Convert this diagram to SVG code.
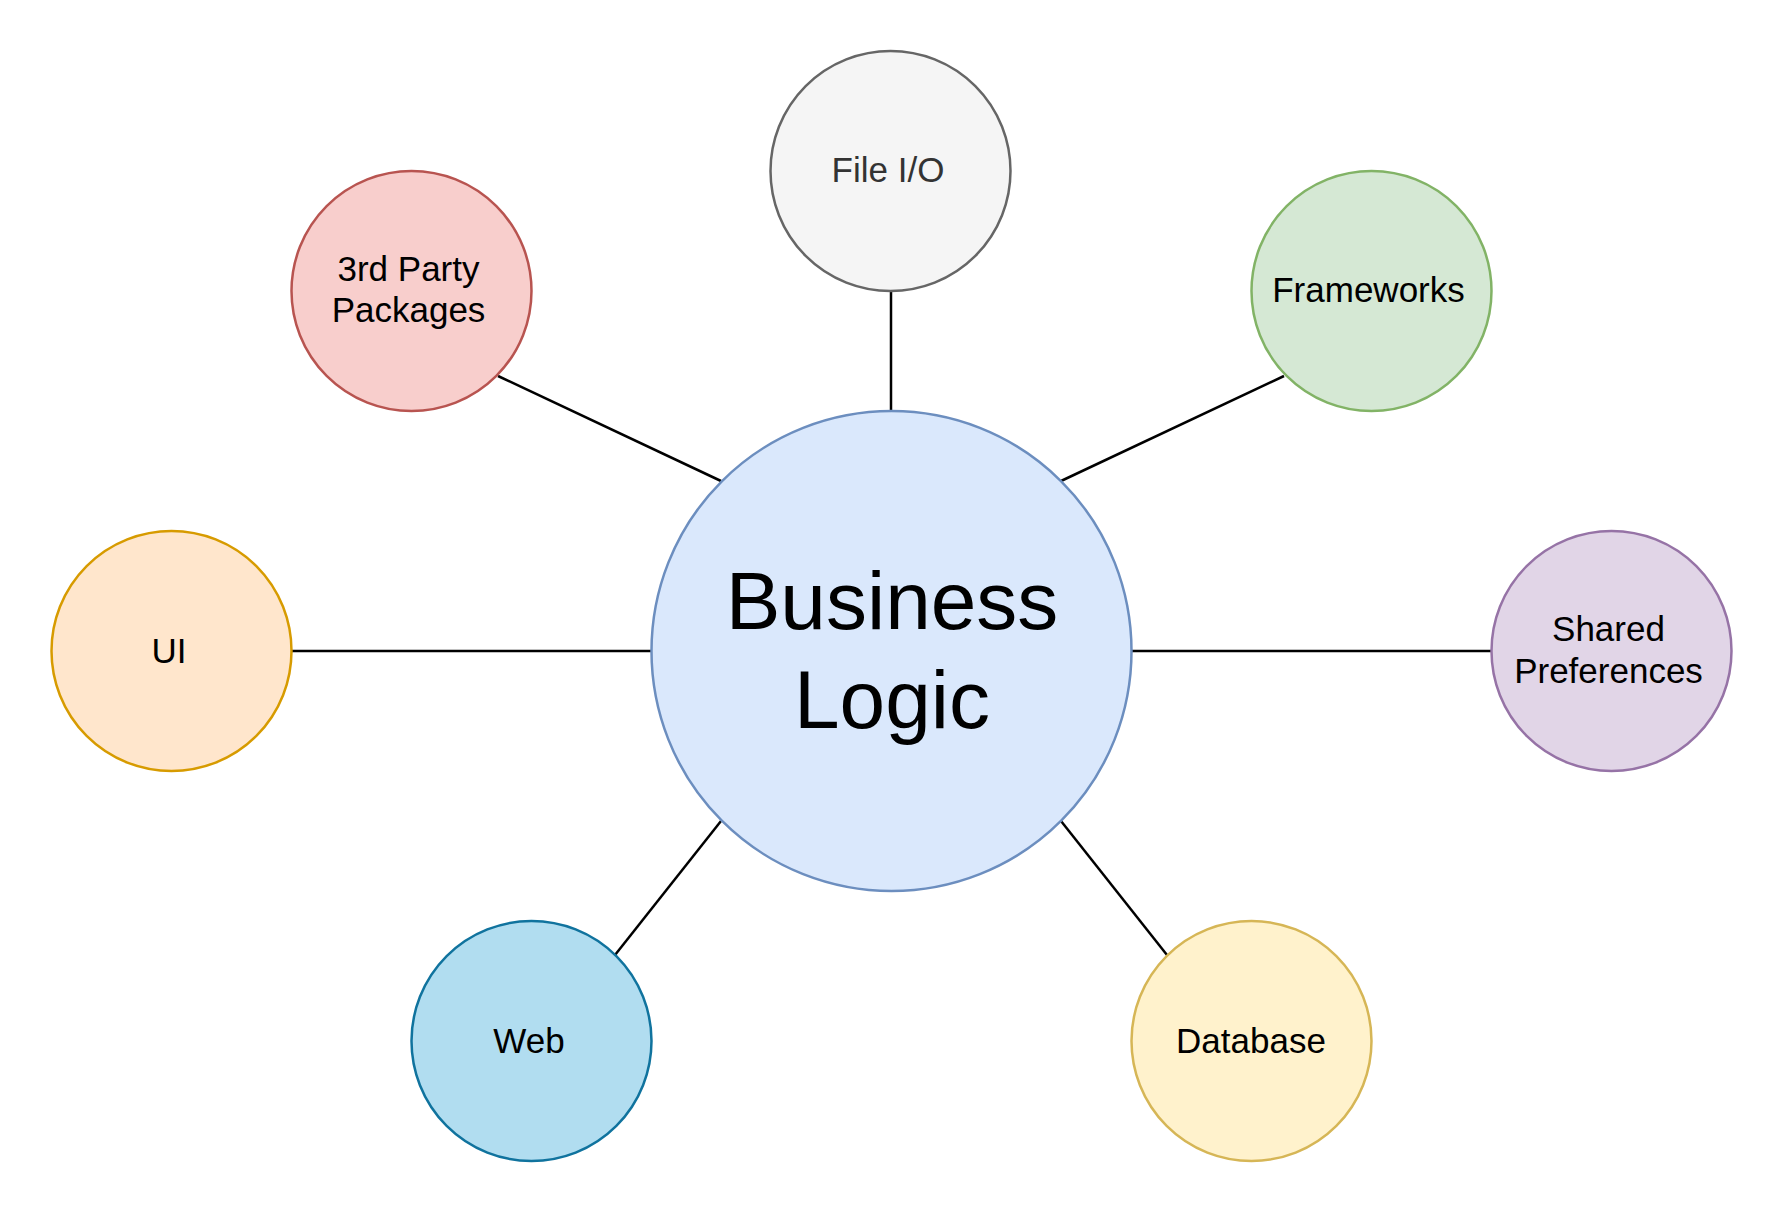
<svg xmlns="http://www.w3.org/2000/svg" width="1783" height="1213" viewBox="0 0 1783 1213">
<style>
.n{stroke-width:2.5}
.t{font-family:"Liberation Sans",Arial,sans-serif;font-size:35px;text-anchor:middle;fill:#000}
.big{font-size:82px}
.e{stroke:#000;stroke-width:2.5;fill:none}
</style>
<rect width="1783" height="1213" fill="#fff"/>
<g id="connectors">
<line class="e" x1="891" y1="411" x2="891" y2="291"/>
<line class="e" x1="721" y1="481" x2="498" y2="376"/>
<line class="e" x1="1061" y1="481" x2="1284" y2="376"/>
<line class="e" x1="651" y1="651" x2="291" y2="651"/>
<line class="e" x1="1131" y1="651" x2="1491" y2="651"/>
<line class="e" x1="721" y1="821" x2="615" y2="955"/>
<line class="e" x1="1061" y1="821" x2="1167" y2="955"/>
</g>
<g id="business-logic">
<circle class="n" cx="891.5" cy="651" r="240" fill="#dae8fc" stroke="#6c8ebf"/>
<text class="t big" x="892" y="629">Business</text>
<text class="t big" x="892" y="728">Logic</text>
</g>
<g id="file-io">
<circle class="n" cx="890.5" cy="171" r="120" fill="#f5f5f5" stroke="#666666"/>
<text class="t" x="888" y="181.5" style="fill:#333333">File I/O</text>
</g>
<g id="third-party">
<circle class="n" cx="411.5" cy="291" r="120" fill="#f8cecc" stroke="#b85450"/>
<text class="t" x="408.5" y="280.5">3rd Party</text>
<text class="t" x="408.5" y="322">Packages</text>
</g>
<g id="frameworks">
<circle class="n" cx="1371.5" cy="291" r="120" fill="#d5e8d4" stroke="#82b366"/>
<text class="t" x="1368.5" y="301.5">Frameworks</text>
</g>
<g id="ui">
<circle class="n" cx="171.5" cy="651" r="120" fill="#ffe6cc" stroke="#d79b00"/>
<text class="t" x="169" y="662.5">UI</text>
</g>
<g id="shared-preferences">
<circle class="n" cx="1611.5" cy="651" r="120" fill="#e1d5e7" stroke="#9673a6"/>
<text class="t" x="1608.5" y="641">Shared</text>
<text class="t" x="1608.5" y="682.5">Preferences</text>
</g>
<g id="web">
<circle class="n" cx="531.5" cy="1041" r="120" fill="#b1ddf0" stroke="#10739e"/>
<text class="t" x="529" y="1052.5">Web</text>
</g>
<g id="database">
<circle class="n" cx="1251.5" cy="1041" r="120" fill="#fff2cc" stroke="#d6b656"/>
<text class="t" x="1251" y="1052.5">Database</text>
</g>
</svg>
